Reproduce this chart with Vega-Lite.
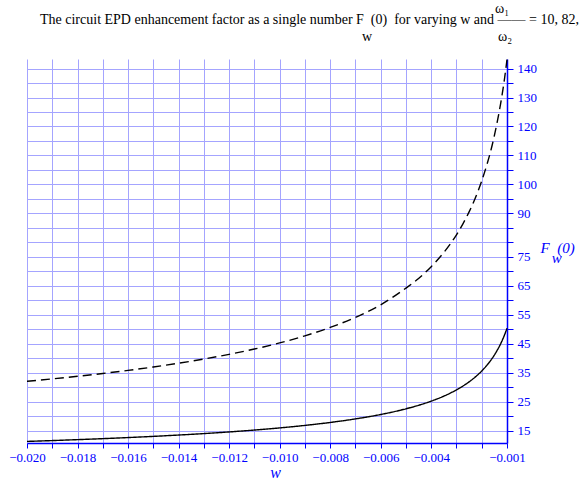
{
  "$schema": "https://vega.github.io/schema/vega-lite/v6.json",
  "width": 480,
  "height": 384,
  "autosize": "none",
  "padding": {"left": 27, "top": 59, "right": 75, "bottom": 42},
  "background": "white",
  "title": {
    "text": [
      "\u200b\u00a0\u00a0\u00a0\u00a0\u00a0\u00a0\u00a0\u00a0\u00a0\u00a0\u00a0\u00a0\u00a0\u00a0\u00a0\u00a0\u00a0\u00a0\u00a0\u00a0\u00a0\u00a0\u00a0\u00a0\u00a0\u00a0\u00a0\u00a0\u00a0\u00a0\u00a0\u00a0\u00a0\u00a0\u00a0\u00a0\u00a0\u00a0\u00a0\u00a0\u00a0\u00a0\u00a0\u00a0\u00a0\u00a0\u00a0\u00a0\u00a0\u00a0\u00a0\u00a0\u00a0\u00a0\u00a0\u00a0\u00a0\u00a0\u00a0\u00a0\u00a0\u00a0\u00a0\u00a0\u00a0\u00a0\u00a0\u00a0\u00a0\u00a0\u00a0\u00a0\u00a0\u00a0\u00a0\u00a0\u00a0\u00a0\u00a0\u00a0\u00a0\u00a0\u00a0\u00a0\u00a0\u00a0\u00a0\u00a0\u00a0\u00a0\u00a0\u00a0\u00a0\u00a0\u00a0\u00a0\u00a0\u00a0\u00a0\u00a0\u00a0\u00a0\u00a0\u00a0\u00a0\u00a0\u00a0\u00a0\u00a0\u00a0\u00a0\u00a0\u00a0\u00a0\u00a0\u00a0\u00a0\u00a0\u00a0\u00a0\u00a0\u00a0\u00a0\u00a0\u00a0\u00a0\u00a0\u00a0\u00a0\u00a0ω₁",
      "The circuit EPD enhancement factor as a single number F\u00a0\u00a0(0)\u00a0 for varying w and —— = 10, 82,"
    ],
    "subtitle": "\u200b\u00a0\u00a0\u00a0\u00a0\u00a0\u00a0\u00a0\u00a0\u00a0\u00a0\u00a0\u00a0\u00a0\u00a0\u00a0\u00a0\u00a0\u00a0\u00a0\u00a0\u00a0\u00a0\u00a0\u00a0\u00a0\u00a0\u00a0\u00a0\u00a0\u00a0\u00a0\u00a0\u00a0\u00a0\u00a0\u00a0\u00a0\u00a0\u00a0\u00a0\u00a0\u00a0\u00a0\u00a0\u00a0\u00a0\u00a0\u00a0\u00a0\u00a0\u00a0\u00a0\u00a0\u00a0\u00a0\u00a0\u00a0\u00a0\u00a0\u00a0\u00a0\u00a0\u00a0\u00a0\u00a0\u00a0\u00a0\u00a0\u00a0\u00a0\u00a0\u00a0\u00a0\u00a0\u00a0\u00a0\u00a0\u00a0\u00a0\u00a0\u00a0\u00a0\u00a0\u00a0\u00a0\u00a0\u00a0\u00a0\u00a0\u00a0\u00a0\u00a0w\u00a0\u00a0\u00a0\u00a0\u00a0\u00a0\u00a0\u00a0\u00a0\u00a0\u00a0\u00a0\u00a0\u00a0\u00a0\u00a0\u00a0\u00a0\u00a0\u00a0\u00a0\u00a0\u00a0\u00a0\u00a0\u00a0\u00a0\u00a0\u00a0\u00a0\u00a0\u00a0\u00a0\u00a0\u00a0\u00a0ω₂",
    "anchor": "start",
    "frame": "group",
    "dx": 13,
    "font": "Liberation Serif",
    "fontSize": 14,
    "fontWeight": "normal",
    "color": "black",
    "lineHeight": 11,
    "subtitleFont": "Liberation Serif",
    "subtitleFontSize": 14,
    "subtitleColor": "black",
    "subtitlePadding": 3,
    "offset": 13
  },
  "data": {
    "values": [
      {"w": -0.020, "F": 32.0, "s": "a"},
      {"w": -0.019, "F": 32.83, "s": "a"},
      {"w": -0.018, "F": 33.73, "s": "a"},
      {"w": -0.017, "F": 34.71, "s": "a"},
      {"w": -0.016, "F": 35.78, "s": "a"},
      {"w": -0.015, "F": 36.95, "s": "a"},
      {"w": -0.014, "F": 38.25, "s": "a"},
      {"w": -0.013, "F": 39.69, "s": "a"},
      {"w": -0.012, "F": 41.31, "s": "a"},
      {"w": -0.011, "F": 43.15, "s": "a"},
      {"w": -0.010, "F": 45.25, "s": "a"},
      {"w": -0.009, "F": 47.7, "s": "a"},
      {"w": -0.008, "F": 50.6, "s": "a"},
      {"w": -0.007, "F": 54.09, "s": "a"},
      {"w": -0.006, "F": 58.42, "s": "a"},
      {"w": -0.005, "F": 64.2, "s": "a"},
      {"w": -0.0045, "F": 67.5, "s": "a"},
      {"w": -0.004, "F": 71.6, "s": "a"},
      {"w": -0.0035, "F": 76.5, "s": "a"},
      {"w": -0.003, "F": 82.6, "s": "a"},
      {"w": -0.00275, "F": 86.3, "s": "a"},
      {"w": -0.0025, "F": 90.5, "s": "a"},
      {"w": -0.00225, "F": 95.4, "s": "a"},
      {"w": -0.002, "F": 101.2, "s": "a"},
      {"w": -0.0018, "F": 106.7, "s": "a"},
      {"w": -0.0016, "F": 113.1, "s": "a"},
      {"w": -0.0014, "F": 121.0, "s": "a"},
      {"w": -0.00125, "F": 128.0, "s": "a"},
      {"w": -0.0011, "F": 136.4, "s": "a"},
      {"w": -0.001, "F": 143.1, "s": "a"},
      {"w": -0.020, "F": 11.25, "s": "b"},
      {"w": -0.019, "F": 11.54, "s": "b"},
      {"w": -0.018, "F": 11.86, "s": "b"},
      {"w": -0.017, "F": 12.2, "s": "b"},
      {"w": -0.016, "F": 12.58, "s": "b"},
      {"w": -0.015, "F": 12.99, "s": "b"},
      {"w": -0.014, "F": 13.45, "s": "b"},
      {"w": -0.013, "F": 13.95, "s": "b"},
      {"w": -0.012, "F": 14.52, "s": "b"},
      {"w": -0.011, "F": 15.17, "s": "b"},
      {"w": -0.010, "F": 15.91, "s": "b"},
      {"w": -0.009, "F": 16.77, "s": "b"},
      {"w": -0.008, "F": 17.79, "s": "b"},
      {"w": -0.007, "F": 19.02, "s": "b"},
      {"w": -0.006, "F": 20.54, "s": "b"},
      {"w": -0.005, "F": 22.5, "s": "b"},
      {"w": -0.0045, "F": 23.72, "s": "b"},
      {"w": -0.004, "F": 25.16, "s": "b"},
      {"w": -0.0035, "F": 26.89, "s": "b"},
      {"w": -0.003, "F": 29.05, "s": "b"},
      {"w": -0.00275, "F": 30.34, "s": "b"},
      {"w": -0.0025, "F": 31.82, "s": "b"},
      {"w": -0.00225, "F": 33.54, "s": "b"},
      {"w": -0.002, "F": 35.58, "s": "b"},
      {"w": -0.0018, "F": 37.5, "s": "b"},
      {"w": -0.0016, "F": 39.77, "s": "b"},
      {"w": -0.0014, "F": 42.52, "s": "b"},
      {"w": -0.00125, "F": 45.0, "s": "b"},
      {"w": -0.0011, "F": 47.97, "s": "b"},
      {"w": -0.001, "F": 50.31, "s": "b"}
    ]
  },
  "mark": {"type": "line", "strokeWidth": 1.4, "interpolate": "monotone", "color": "black"},
  "encoding": {
    "x": {
      "field": "w",
      "type": "quantitative",
      "scale": {"domain": [-0.02, -0.001], "nice": false, "zero": false},
      "axis": {
        "values": [-0.020, -0.019, -0.018, -0.017, -0.016, -0.015, -0.014, -0.013, -0.012, -0.011, -0.010, -0.009, -0.008, -0.007, -0.006, -0.005, -0.004, -0.003, -0.002, -0.001],
        "labelExpr": "((round(-datum.value*1000) % 2 == 0) && (round(-datum.value*1000) >= 4)) || round(-datum.value*1000) == 1 ? '−' + format(-datum.value, '.3f') : ''",
        "labelOverlap": false,
        "labelFlush": false,
        "grid": true,
        "gridColor": "#a4a4ff",
        "gridWidth": 1,
        "domainColor": "#0000ff",
        "domainWidth": 1.5,
        "tickColor": "#0000ff",
        "tickSize": 5,
        "tickWidth": 1,
        "labelColor": "#0000ff",
        "labelFont": "Liberation Serif",
        "labelFontSize": 13,
        "labelPadding": 3,
        "title": "w",
        "titleFont": "Liberation Serif",
        "titleFontStyle": "italic",
        "titleFontWeight": "normal",
        "titleFontSize": 16,
        "titleColor": "#0000ff",
        "titleX": 248,
        "titleY": 34,
        "titleAlign": "center",
        "titleBaseline": "alphabetic"
      }
    },
    "y": {
      "field": "F",
      "type": "quantitative",
      "scale": {"domain": [10.7, 143.3], "nice": false, "zero": false},
      "axis": {
        "orient": "right",
        "values": [15, 20, 25, 30, 35, 40, 45, 50, 55, 60, 65, 70, 75, 80, 85, 90, 95, 100, 105, 110, 115, 120, 125, 130, 135, 140],
        "labelExpr": "(datum.value <= 75 && (datum.value - 15) % 10 == 0) || (datum.value >= 90 && datum.value % 10 == 0) ? datum.value : ''",
        "labelOverlap": false,
        "labelFlush": false,
        "grid": true,
        "gridColor": "#a4a4ff",
        "gridWidth": 1,
        "domainColor": "#0000ff",
        "domainWidth": 1.5,
        "tickColor": "#0000ff",
        "tickSize": 6,
        "tickWidth": 1,
        "labelColor": "#0000ff",
        "labelFont": "Liberation Serif",
        "labelFontSize": 13,
        "labelPadding": 4,
        "labelBaseline": "middle",
        "title": ["F\u00a0\u00a0(0)", "\u200b\u00a0\u00a0\u00a0w"],
        "titleFont": "Liberation Serif",
        "titleFontStyle": "italic",
        "titleFontWeight": "normal",
        "titleFontSize": 15,
        "titleLineHeight": 10,
        "titleColor": "#0000ff",
        "titleAngle": 0,
        "titleAlign": "left",
        "titleBaseline": "alphabetic",
        "titleX": 33,
        "titleY": 193
      }
    },
    "strokeDash": {
      "field": "s",
      "type": "nominal",
      "scale": {"domain": ["a", "b"], "range": [[9, 5], [1, 0]]},
      "legend": null
    }
  },
  "config": {"view": {"stroke": null}}
}
